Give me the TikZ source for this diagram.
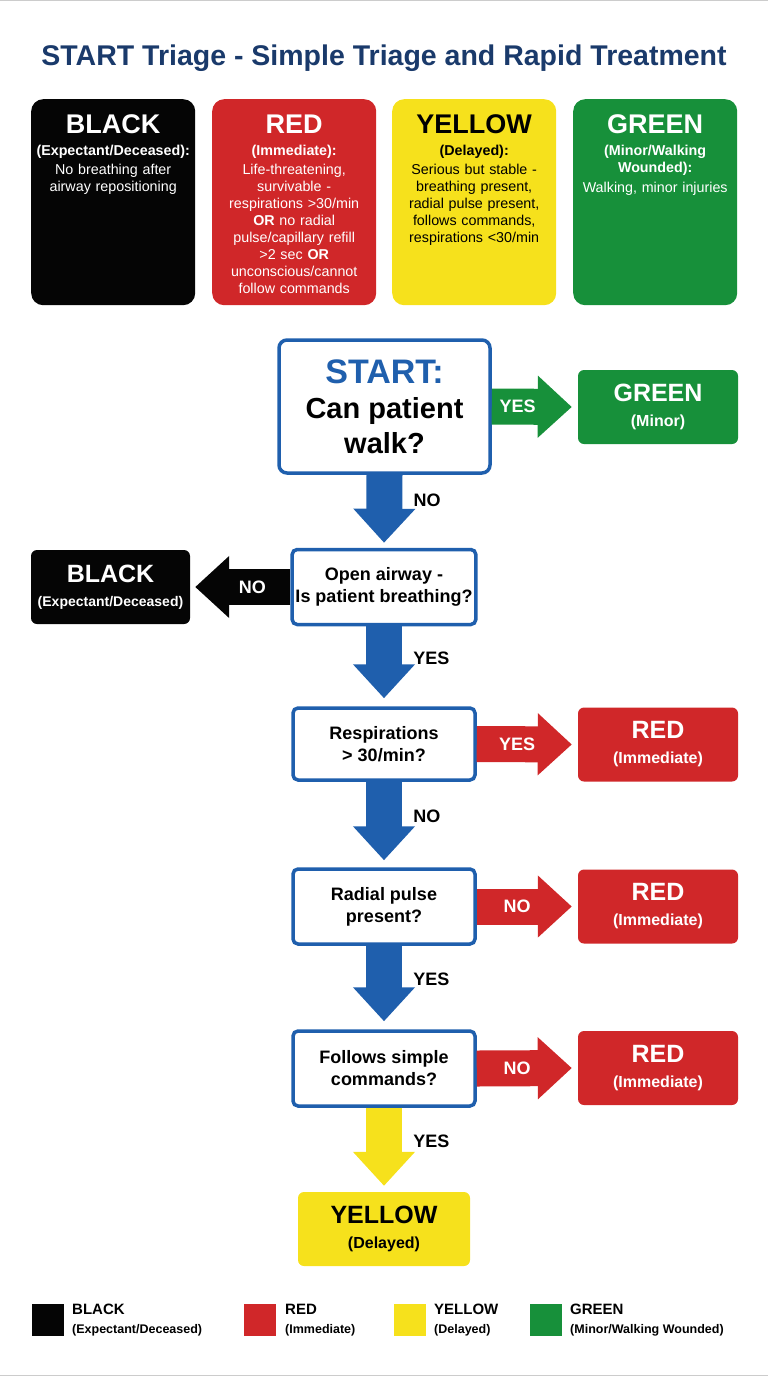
\documentclass[tikz,border=0pt]{standalone}
\usepackage{fontspec}
\setmainfont{Liberation Sans}
\usetikzlibrary{arrows.meta}
\definecolor{tblue}{HTML}{1F5FAD}
\definecolor{tnavy}{HTML}{1A3A6B}
\definecolor{tred}{HTML}{D02729}
\definecolor{tyellow}{HTML}{F6E11C}
\definecolor{tgreen}{HTML}{17903A}
\definecolor{tblack}{HTML}{050505}
\tikzset{
  card/.style={rounded corners=12pt, minimum width=164pt, minimum height=206pt, anchor=north west, inner sep=0pt},
  cardtxt/.style={align=center, anchor=north, text width=162pt, font=\fontsize{14.3}{17}\selectfont},
  qbox/.style={draw=tblue, line width=3.5pt, fill=white, rounded corners=5pt, minimum width=182pt, minimum height=75pt, align=center, font=\bfseries\fontsize{18}{22}\selectfont},
  res/.style={rounded corners=6pt, minimum width=160pt, minimum height=74pt, align=center, font=\bfseries\fontsize{16}{25}\selectfont},
  bigarr/.style={line width=36pt, -{Triangle[width=60pt,length=34pt]}},
  alab/.style={font=\bfseries\fontsize{18}{20}\selectfont},
  lsq/.style={minimum size=32pt, inner sep=0pt, anchor=north west},
  ltxt/.style={anchor=north west, align=left, font=\bfseries\fontsize{15}{19}\selectfont, inner sep=0pt}
}
\begin{document}
\begin{tikzpicture}[x=1pt,y=-1pt]
\useasboundingbox (0,0) rectangle (768,1376);
\draw[gray!40] (0,0.5) -- (768,0.5) (0,1375.5) -- (768,1375.5);
\node[text=tnavy, font=\bfseries\fontsize{28.5}{30}\selectfont] (title) at (384,58) {START Triage - Simple Triage and Rapid Treatment};
% cards
\node[card, fill=tblack] (cb) at (31,99) {};
\node[card, fill=tred] (cr) at (212,99) {};
\node[card, fill=tyellow] (cy) at (392,99) {};
\node[card, fill=tgreen] (cg) at (573,99) {};
\node[cardtxt, text=white] at ([yshift=-12pt]cb.north) {{\bfseries\fontsize{27}{30}\selectfont BLACK}\\[5pt]{\bfseries (Expectant/Deceased):}\\[2pt]No breathing after\\airway repositioning};
\node[cardtxt, text=white] at ([yshift=-12pt]cr.north) {{\bfseries\fontsize{27}{30}\selectfont RED}\\[5pt]{\bfseries (Immediate):}\\[2pt]Life-threatening,\\survivable -\\respirations >30/min\\\textbf{OR} no radial\\pulse/capillary refill\\>2 sec \textbf{OR}\\unconscious/cannot\\follow commands};
\node[cardtxt, text=black] at ([yshift=-12pt]cy.north) {{\bfseries\fontsize{27}{30}\selectfont YELLOW}\\[5pt]{\bfseries (Delayed):}\\[2pt]Serious but stable -\\breathing present,\\radial pulse present,\\follows commands,\\respirations <30/min};
\node[cardtxt, text=white] at ([yshift=-12pt]cg.north) {{\bfseries\fontsize{27}{30}\selectfont GREEN}\\[5pt]{\bfseries (Minor/Walking\\Wounded):}\\[3pt]Walking, minor injuries};
% flow
\node[qbox, minimum width=211pt, minimum height=133pt, rounded corners=8pt, font=\bfseries\fontsize{29}{35}\selectfont] (q0) at (384.5,406.5) {{\color{tblue}\fontsize{34}{36}\selectfont START:}\\Can patient\\walk?};
\node[res, fill=tgreen, text=white] (rg) at (658,407) {{\fontsize{25}{28}\selectfont GREEN}\\(Minor)};
\node[qbox] (q1) at (384,587) {Open airway -\\Is patient breathing?};
\node[res, fill=tblack, text=white, minimum width=159pt, font=\bfseries\fontsize{14}{24}\selectfont] (rb) at (110.5,587) {{\fontsize{25}{28}\selectfont BLACK}\\(Expectant/Deceased)};
\node[qbox, minimum height=72pt] (q2) at (384,744) {Respirations\\> 30/min?};
\node[res, fill=tred, text=white] (rr1) at (658,744.5) {{\fontsize{25}{28}\selectfont RED}\\(Immediate)};
\node[qbox] (q3) at (384,906.5) {Radial pulse\\present?};
\node[res, fill=tred, text=white] (rr2) at (658,906.5) {{\fontsize{25}{28}\selectfont RED}\\(Immediate)};
\node[qbox] (q4) at (384,1068.5) {Follows simple\\commands?};
\node[res, fill=tred, text=white] (rr3) at (658,1068) {{\fontsize{25}{28}\selectfont RED}\\(Immediate)};
\node[res, fill=tyellow, text=black, minimum width=172pt] (ry) at (384,1229) {{\fontsize{25}{28}\selectfont YELLOW}\\(Delayed)};
% arrows
\draw[bigarr, tgreen, shorten >=6pt] (q0.east) -- (rg.west) node[pos=0.3, alab, text=white] {YES};
\draw[bigarr, tblue, shorten >=5pt] (q0.south) -- (q1.north) node[pos=0.35, right=8pt, alab, text=black] {NO};
\draw[bigarr, tblack, shorten >=5pt] (q1.west) -- (rb.east) node[pos=0.38, alab, text=white] {NO};
\draw[bigarr, tblue, shorten >=8pt] (q1.south) -- (q2.north) node[pos=0.4, right=8pt, alab, text=black] {YES};
\draw[bigarr, tred, shorten >=6pt] (q2.east) -- (rr1.west) node[pos=0.4, alab, text=white] {YES};
\draw[bigarr, tblue, shorten >=7pt] (q2.south) -- (q3.north) node[pos=0.4, right=8pt, alab, text=black] {NO};
\draw[bigarr, tred, shorten >=6pt] (q3.east) -- (rr2.west) node[pos=0.4, alab, text=white] {NO};
\draw[bigarr, tblue, shorten >=8pt] (q3.south) -- (q4.north) node[pos=0.4, right=8pt, alab, text=black] {YES};
\draw[bigarr, tred, shorten >=6pt] (q4.east) -- (rr3.west) node[pos=0.4, alab, text=white] {NO};
\draw[bigarr, tyellow, shorten >=6pt] (q4.south) -- (ry.north) node[pos=0.4, right=8pt, alab, text=black] {YES};
% legend
\node[lsq, fill=tblack] (l1) at (32,1304) {};
\node[ltxt] (t1) at (72,1304) {BLACK\\{\fontsize{12.5}{16}\selectfont (Expectant/Deceased)}};
\node[lsq, fill=tred] (l2) at (244,1304) {};
\node[ltxt] (t2) at (285,1304) {RED\\{\fontsize{12.5}{16}\selectfont (Immediate)}};
\node[lsq, fill=tyellow] (l3) at (394,1304) {};
\node[ltxt] (t3) at (434,1304) {YELLOW\\{\fontsize{12.5}{16}\selectfont (Delayed)}};
\node[lsq, fill=tgreen] (l4) at (530,1304) {};
\node[ltxt] (t4) at (570,1304) {GREEN\\{\fontsize{12.5}{16}\selectfont (Minor/Walking Wounded)}};
\end{tikzpicture}
\end{document}
